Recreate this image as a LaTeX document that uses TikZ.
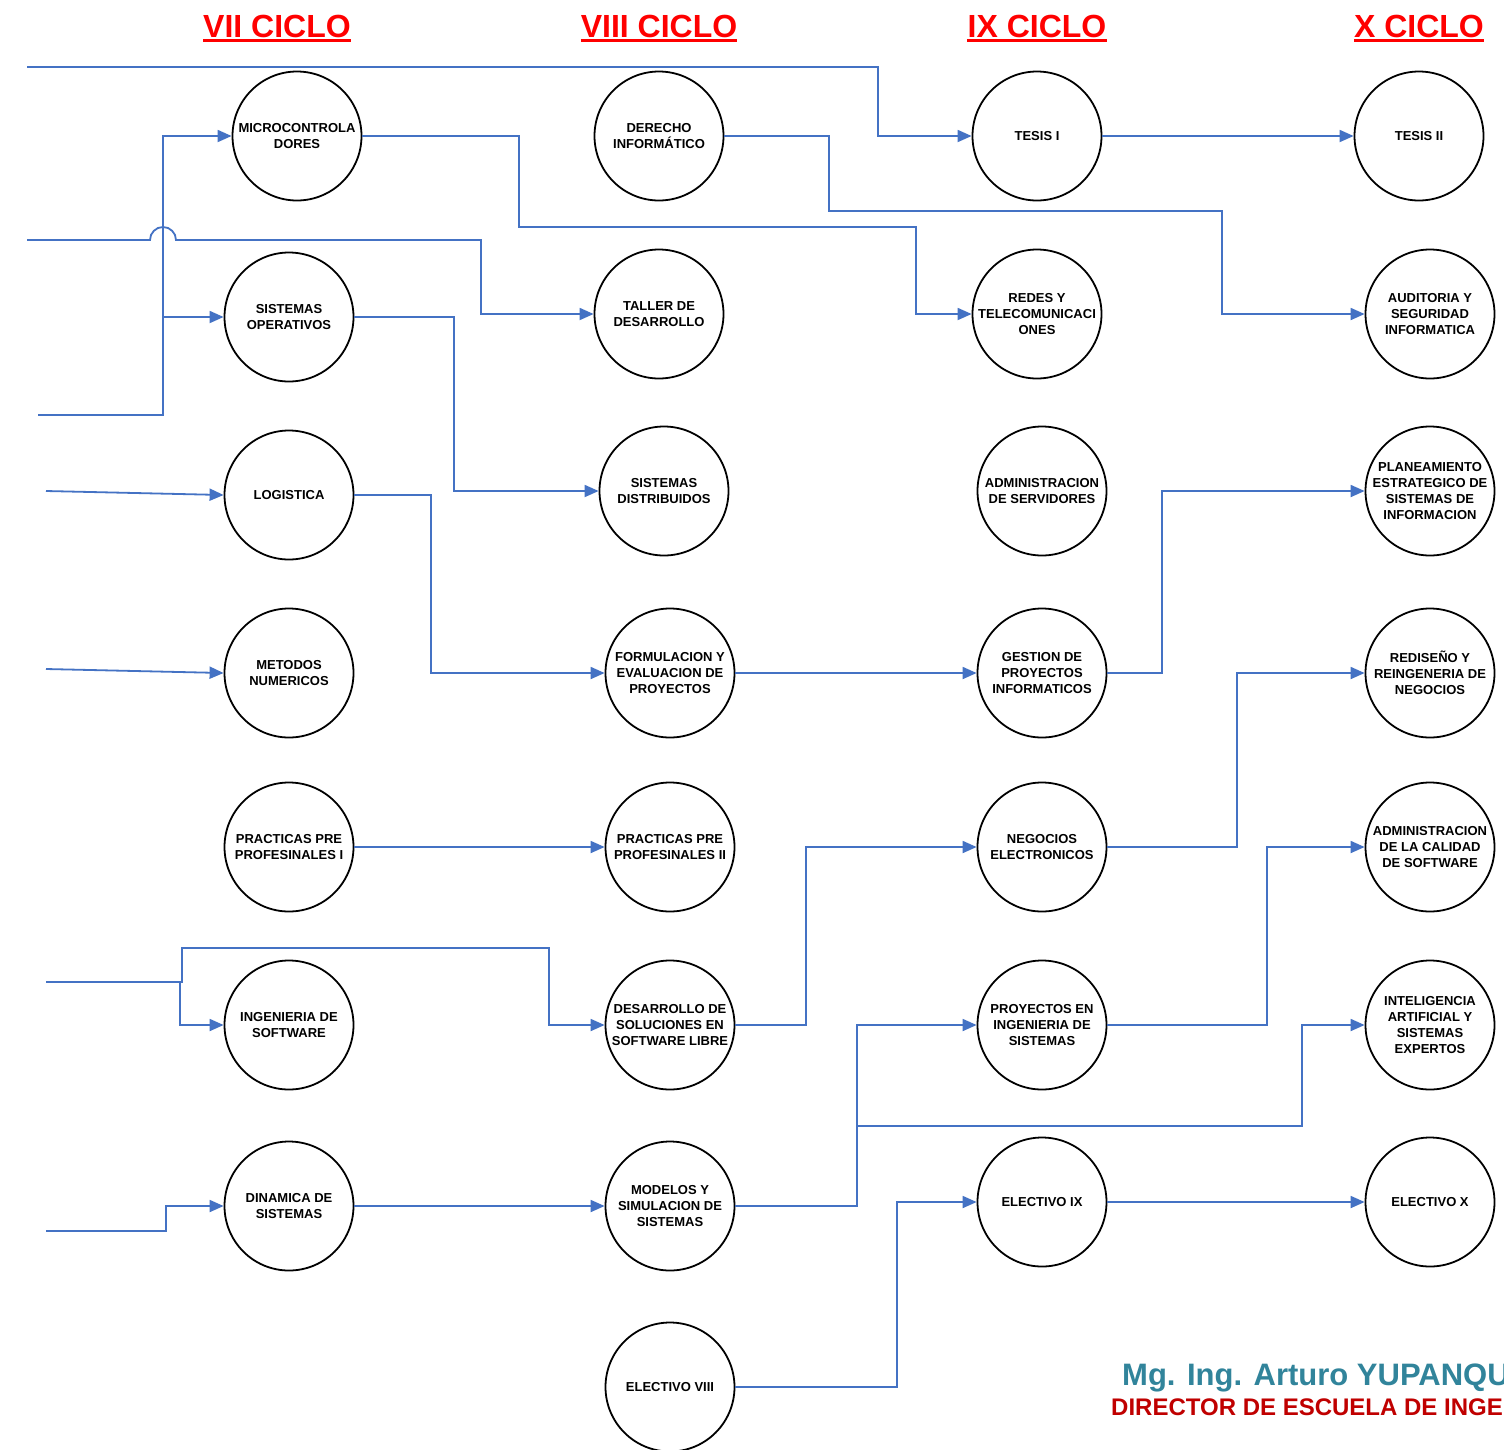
\documentclass[tikz,border=0pt]{standalone}
\usepackage{fontspec}
\setmainfont{Liberation Sans}
\usetikzlibrary{arrows.meta}
\definecolor{lineblue}{HTML}{4472C4}
\definecolor{titlered}{HTML}{FF0000}
\definecolor{nameteal}{HTML}{31849B}
\definecolor{dirred}{HTML}{C00000}
\begin{document}
\begin{tikzpicture}[x=1pt,y=-1pt,
  course/.style={circle,draw=black,line width=1.8pt,minimum size=129pt,inner sep=0pt,align=center,font=\bfseries\fontsize{13}{16}\selectfont},
  conn/.style={draw=lineblue,line width=1.8pt,-{Triangle[length=14pt,width=12pt]}},
  title/.style={text=titlered,inner sep=0pt,anchor=base,font=\bfseries\fontsize{32}{36}\selectfont},
  uline/.style={draw=titlered,line width=2.5pt}]
\clip (0,0) rectangle (1504,1449);
\fill[white] (0,0) rectangle (1504,1449);

% titles
\node[title] (t7) at (277,37) {VII CICLO};
\node[title] (t8) at (659,37) {VIII CICLO};
\node[title] (t9) at (1037,37) {IX CICLO};
\node[title] (t10) at (1419,37) {X CICLO};
\foreach \t in {t7,t8,t9,t10}{\draw[uline] ([yshift=-3.5pt]\t.base west) -- ([yshift=-3.5pt]\t.base east);}

% VII
\node[course] (micro) at (297,136) {MICROCONTROLA\\DORES};
\node[course] (sisop) at (289,317) {SISTEMAS\\OPERATIVOS};
\node[course] (logistica) at (289,495) {LOGISTICA};
\node[course] (metodos) at (289,673) {METODOS\\NUMERICOS};
\node[course] (practicas1) at (289,847) {PRACTICAS PRE\\PROFESINALES I};
\node[course] (ingsoft) at (289,1025) {INGENIERIA DE\\SOFTWARE};
\node[course] (dinamica) at (289,1206) {DINAMICA DE\\SISTEMAS};
% VIII
\node[course] (derecho) at (659,136) {DERECHO\\INFORMÁTICO};
\node[course] (taller) at (659,314) {TALLER DE\\DESARROLLO};
\node[course] (sisdist) at (664,491) {SISTEMAS\\DISTRIBUIDOS};
\node[course] (formulacion) at (670,673) {FORMULACION Y\\EVALUACION DE\\PROYECTOS};
\node[course] (practicas2) at (670,847) {PRACTICAS PRE\\PROFESINALES II};
\node[course] (desarrollo) at (670,1025) {DESARROLLO DE\\SOLUCIONES EN\\SOFTWARE LIBRE};
\node[course] (modelos) at (670,1206) {MODELOS Y\\SIMULACION DE\\SISTEMAS};
\node[course] (electivo8) at (670,1387) {ELECTIVO VIII};
% IX
\node[course] (tesis1) at (1037,136) {TESIS I};
\node[course] (redes) at (1037,314) {REDES Y\\TELECOMUNICACI\\ONES};
\node[course] (servidores) at (1042,491) {ADMINISTRACION\\DE SERVIDORES};
\node[course] (gestion) at (1042,673) {GESTION DE\\PROYECTOS\\INFORMATICOS};
\node[course] (negocios) at (1042,847) {NEGOCIOS\\ELECTRONICOS};
\node[course] (proyectos) at (1042,1025) {PROYECTOS EN\\INGENIERIA DE\\SISTEMAS};
\node[course] (electivo9) at (1042,1202) {ELECTIVO IX};
% X
\node[course] (tesis2) at (1419,136) {TESIS II};
\node[course] (auditoria) at (1430,314) {AUDITORIA Y\\SEGURIDAD\\INFORMATICA};
\node[course] (planeamiento) at (1430,491) {PLANEAMIENTO\\ESTRATEGICO DE\\SISTEMAS DE\\INFORMACION};
\node[course] (rediseno) at (1430,673) {REDISEÑO Y\\REINGENERIA DE\\NEGOCIOS};
\node[course] (calidad) at (1430,847) {ADMINISTRACION\\DE LA CALIDAD\\DE SOFTWARE};
\node[course] (inteligencia) at (1430,1025) {INTELIGENCIA\\ARTIFICIAL Y\\SISTEMAS\\EXPERTOS};
\node[course] (electivo10) at (1430,1202) {ELECTIVO X};

% free ends and junctions
\coordinate (inTop) at (27,67);
\coordinate (inBridge) at (27,240);
\coordinate (inMicro) at (38,415);
\coordinate (inLog) at (46,491);
\coordinate (inMet) at (46,669);
\coordinate (inIng) at (46,982);
\coordinate (inDin) at (46,1231);
\coordinate (jSO) at (163,317);
\coordinate (jIng) at (180,982);
\coordinate (jMod) at (857,1126);

% connectors
\draw[conn] (inTop) -| (878,136) -- (tesis1.west);
\draw[conn] (tesis1.east) -- (tesis2.west);
\draw[conn] (inBridge) -- (150,240) arc[start angle=180,end angle=360,radius=13] -- (481,240) |- (taller.west);
\draw[conn] (inMicro) -| (163,136) -- (micro.west);
\draw[conn] (jSO) -- (sisop.west);
\draw[conn] (micro.east) -| (519,227) -| (916,314) -- (redes.west);
\draw[conn] (derecho.east) -| (829,211) -| (1222,314) -- (auditoria.west);
\draw[conn] (sisop.east) -| (454,491) -- (sisdist.west);
\draw[conn] (inLog) -- (logistica.west);
\draw[conn] (logistica.east) -| (431,673) -- (formulacion.west);
\draw[conn] (inMet) -- (metodos.west);
\draw[conn] (formulacion.east) -- (gestion.west);
\draw[conn] (gestion.east) -| (1162,491) -- (planeamiento.west);
\draw[conn] (practicas1.east) -- (practicas2.west);
\draw[conn] (inIng) -| (182,948) -| (549,1025) -- (desarrollo.west);
\draw[conn] (jIng) |- (ingsoft.west);
\draw[conn] (desarrollo.east) -| (806,847) -- (negocios.west);
\draw[conn] (negocios.east) -| (1237,673) -- (rediseno.west);
\draw[conn] (proyectos.east) -| (1267,847) -- (calidad.west);
\draw[conn] (modelos.east) -| (857,1025) -- (proyectos.west);
\draw[conn] (jMod) -| (1302,1025) -- (inteligencia.west);
\draw[conn] (inDin) -| (166,1206) -- (dinamica.west);
\draw[conn] (dinamica.east) -- (modelos.west);
\draw[conn] (electivo8.east) -| (897,1202) -- (electivo9.west);
\draw[conn] (electivo9.east) -- (electivo10.west);

% signature
\node[anchor=base west,inner sep=0pt,text=nameteal,font=\bfseries\fontsize{31}{35}\selectfont] (sig) at (1122,1385) {Mg. Ing. Arturo YUPANQU};
\node[anchor=base west,inner sep=0pt,text=dirred,font=\bfseries\fontsize{24}{28}\selectfont] (dir) at (1111,1415) {DIRECTOR DE ESCUELA DE INGE};
\end{tikzpicture}
\end{document}
